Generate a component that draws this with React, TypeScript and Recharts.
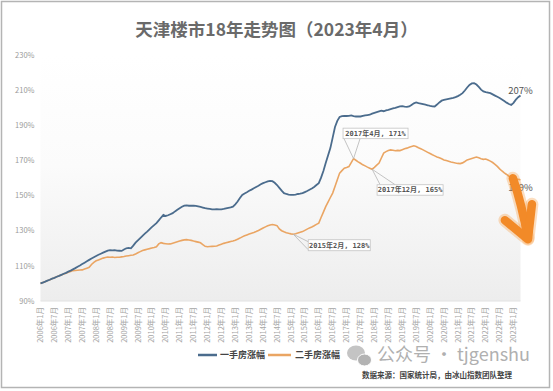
import React from 'react';
import { LineChart, Line, XAxis, YAxis, ReferenceDot, CartesianGrid } from 'recharts';

// 一手房涨幅 (new homes), monthly 2006年1月 – 2023年4月, % of 2006年1月
const newHome: number[] = [
  100.0, 100.5, 101.0, 101.6, 102.1, 102.7, 103.2, 103.8, 104.3, 104.9, 105.5, 106.0,
  106.7, 107.3, 108.0, 108.7, 109.5, 110.2, 111.0, 111.8, 112.6, 113.4, 114.2, 114.9,
  115.6, 116.3, 116.9, 117.5, 118.1, 118.7, 118.9, 118.8, 118.9, 118.7, 118.6, 118.5,
  119.3, 120.0, 120.2, 120.0, 121.5, 123.2, 124.5, 125.8, 127.1, 128.3, 129.5, 130.8,
  132.0, 133.2, 134.3, 135.9, 137.5, 139.0, 138.4, 138.8, 139.4, 140.0, 141.0, 141.9,
  142.8, 143.6, 144.3, 144.4, 144.2, 144.3, 144.2, 144.1, 143.8, 143.5, 143.2, 142.8,
  142.6, 142.4, 142.2, 142.1, 142.2, 142.1, 142.2, 142.4, 142.7, 143.0, 143.3, 143.7,
  145.0, 146.6, 148.6, 150.4, 151.2, 151.9, 152.7, 153.4, 154.2, 154.9, 155.6, 156.4,
  157.1, 157.6, 158.1, 158.4, 158.2, 157.3, 156.0, 154.4, 152.8, 151.4, 150.9, 150.6,
  150.4, 150.4, 150.6, 150.9, 151.1, 151.4, 152.0, 152.6, 153.3, 154.0, 154.9, 156.0,
  157.1, 160.2, 164.0, 168.5, 172.8, 177.0, 183.0, 189.0, 192.5, 194.7, 195.2, 195.4,
  195.3, 195.4, 195.6, 195.2, 195.0, 195.1, 195.0, 195.3, 195.6, 195.8, 196.0, 196.6,
  197.1, 197.5, 197.9, 198.3, 198.0, 198.5, 198.8, 199.2, 199.6, 199.9, 200.3, 200.7,
  200.9, 200.6, 200.5, 200.7, 201.6, 202.5, 203.0, 202.6, 202.3, 202.0, 201.7, 201.4,
  201.0, 200.8, 200.7, 201.8, 203.0, 204.0, 204.4, 204.7, 205.0, 205.3, 205.6, 206.0,
  206.6, 207.4, 208.3, 209.8, 211.5, 213.0, 213.8, 214.0, 213.2, 211.8, 210.3, 209.3,
  208.9, 208.6, 208.3, 207.6, 206.9, 206.2, 205.5, 204.7, 203.8, 202.9, 202.1, 201.6,
  202.8, 204.6, 206.0, 207.0,
];

// 二手房涨幅 (second-hand homes)
const resale: number[] = [
  100.0, 100.5, 101.0, 101.6, 102.1, 102.7, 103.2, 103.8, 104.3, 104.8, 105.3, 105.8,
  106.3, 106.8, 107.3, 107.4, 107.5, 107.6, 107.7, 108.2, 108.7, 109.2, 110.8, 112.0,
  112.9, 113.4, 113.9, 114.4, 114.8, 115.0, 114.9, 115.0, 114.8, 114.9, 114.9, 115.1,
  115.3, 115.6, 115.8, 116.0, 116.2, 116.8, 117.5, 118.1, 118.7, 119.1, 119.5, 119.8,
  120.2, 120.5, 120.9, 122.5, 123.2, 122.8, 122.6, 122.4, 122.5, 122.9, 123.3, 123.7,
  124.1, 124.5, 124.8, 124.9, 124.7, 124.5, 124.1, 123.8, 123.5, 123.1, 122.1, 121.1,
  120.9, 121.0, 121.1, 121.2, 121.3, 121.8, 122.3, 122.8, 123.2, 123.5, 123.9, 124.2,
  124.6, 125.2, 125.8, 126.5, 127.1, 127.6, 128.1, 128.6, 129.0, 129.5, 130.1, 130.8,
  131.5, 132.2, 132.8, 133.3, 133.5, 133.2, 132.9, 131.0, 130.0, 129.4, 128.9, 128.5,
  128.2, 128.0, 128.3, 128.7, 129.1, 129.5, 130.2, 130.9, 131.6, 132.1, 132.8, 133.6,
  134.3, 137.5, 140.6, 143.7, 146.3, 148.9, 151.4, 155.2, 159.0, 162.8, 164.2, 165.6,
  166.0, 166.5, 168.8, 171.0, 170.1, 169.2, 168.4, 167.5, 166.9, 166.2, 165.6, 165.0,
  166.1, 167.3, 168.5, 171.4, 174.2, 175.0, 175.6, 176.0, 175.8, 175.5, 175.7, 175.6,
  176.1, 176.6, 177.0, 177.5, 177.9, 178.3, 177.9, 177.2, 176.6, 176.0, 175.3, 174.6,
  173.9, 173.2, 172.6, 172.0, 171.5, 170.9, 170.3, 169.9, 169.5, 169.1, 168.8, 168.5,
  168.3, 168.2, 168.6, 169.4, 170.3, 170.7, 171.1, 171.5, 171.9, 171.5, 171.0, 170.6,
  170.8, 170.2, 169.6, 168.8, 167.8, 166.6, 165.2, 164.0, 162.9, 162.0, 161.0, 160.4,
  159.9, 159.5, 159.2, 159.0,
];

const yTicks: number[] = [90, 110, 130, 150, 170, 190, 210, 230];

const months: string[] = [];
for (let y = 2006; y <= 2023; y++) {
  for (let m = 1; m <= 12; m++) {
    if (y === 2023 && m > 4) break;
    months.push(`${y}年${m}月`);
  }
}
const xTicks: string[] = months.filter((l) => /年(1|7)月$/.test(l));

const data = months.map((month, i) => ({ month, newHome: newHome[i], resale: resale[i] }));

const CJK = "'Noto Sans CJK SC','Noto Sans',sans-serif";
const MONO = "'DejaVu Sans Mono','Noto Sans CJK SC',monospace";
const BLUE = '#4b6c8d';
const ORANGE = '#eaa563';

const XTick = (props: any) => {
  const { x, y, payload } = props;
  return (
    <text
      x={x}
      y={y}
      transform={`rotate(-90 ${x} ${y})`}
      textAnchor="end"
      dy="0.35em"
      fontSize={7.5}
      fill="#a6a6a6"
      fontFamily={CJK}
    >
      {payload.value}
    </text>
  );
};

const center = (props: any) => {
  const vb = props.viewBox || {};
  return { px: vb.x + (vb.width || 0) / 2, py: vb.y + (vb.height || 0) / 2 };
};

type CalloutCfg = { text: string; dx: number; dy: number; w: number; h: number; base: [number, number, number, number] };

const makeCallout = (c: CalloutCfg) => (props: any) => {
  const { px, py } = center(props);
  const bx = px + c.dx;
  const by = py + c.dy;
  return (
    <g>
      <line x1={px} y1={py} x2={bx + c.base[0]} y2={by + c.base[1]} stroke="#b5b5b5" strokeWidth={0.8} />
      <line x1={px} y1={py} x2={bx + c.base[2]} y2={by + c.base[3]} stroke="#b5b5b5" strokeWidth={0.8} />
      <rect x={bx} y={by} width={c.w} height={c.h} fill="#ffffff" stroke="#c4c4c4" strokeWidth={0.8} />
      <text
        x={bx + c.w / 2}
        y={by + c.h / 2}
        dy="0.35em"
        textAnchor="middle"
        fontSize={7}
        fontWeight="bold"
        fill="#555"
        fontFamily={MONO}
      >
        {c.text}
      </text>
    </g>
  );
};

const endLabel = (text: string, offY: number) => (props: any) => {
  const { px, py } = center(props);
  return (
    <text x={px} y={py + offY} textAnchor="middle" fontSize={9.5} fill="#555" fontFamily={CJK}>
      {text}
    </text>
  );
};

const arrowLabel = (props: any) => {
  const { px, py } = center(props);
  const t = `translate(${px} ${py})`;
  return (
    <g transform={t}>
      <g stroke="#f6a04a" strokeOpacity={0.35} strokeWidth={13} fill="none" strokeLinecap="round" strokeLinejoin="round">
        <path d="M 4 2 Q 13 28 19 62" />
        <path d="M -4 44 L 19 63 L 23 28" />
      </g>
      <g stroke="#f28a28" strokeWidth={8.5} fill="none" strokeLinecap="round" strokeLinejoin="round">
        <path d="M 4 2 Q 13 28 19 62" />
        <path d="M -4 44 L 19 63 L 23 28" />
      </g>
    </g>
  );
};

export default function App() {
  return (
    <div style={{ position: 'absolute', left: 0, top: 0, width: 553, height: 391, background: '#ffffff' }}>
      <LineChart
        width={553}
        height={391}
        data={data}
        margin={{ top: 55, right: 32.5, bottom: 40, left: 4.5 }}
      >
        <defs>
          <linearGradient id="plotBg" x1="0" y1="0" x2="0" y2="1">
            <stop offset="0%" stopColor="#ffffff" />
            <stop offset="45%" stopColor="#fbfbfb" />
            <stop offset="100%" stopColor="#ededed" />
          </linearGradient>
        </defs>
        <CartesianGrid horizontal={false} vertical={false} fill="url(#plotBg)" stroke="none" />
        <XAxis
          dataKey="month"
          ticks={xTicks}
          interval={0}
          tick={<XTick />}
          tickLine={false}
          tickSize={4}
          tickMargin={2}
          height={50}
          axisLine={{ stroke: '#e2e2e2' }}
        />
        <YAxis
          domain={[90, 230]}
          ticks={yTicks}
          width={36}
          tickLine={false}
          axisLine={false}
          tickSize={4}
          tickMargin={2}
          tickFormatter={(v: number) => `${v}%`}
          tick={{ fontSize: 7.5, fill: '#9a9a9a', fontFamily: CJK }}
        />
        <Line
          type="linear"
          dataKey="resale"
          stroke={ORANGE}
          strokeWidth={1.6}
          dot={false}
          isAnimationActive={false}
        />
        <Line
          type="linear"
          dataKey="newHome"
          stroke={BLUE}
          strokeWidth={1.8}
          dot={false}
          isAnimationActive={false}
        />
        <ReferenceDot
          x="2017年4月"
          y={171}
          r={1}
          fill="none"
          stroke="none"
          label={makeCallout({ text: '2017年4月, 171%', dx: -10.5, dy: -30.5, w: 65, h: 10.5, base: [1, 10.5, 17, 10.5] })}
        />
        <ReferenceDot
          x="2017年12月"
          y={165}
          r={1}
          fill="none"
          stroke="none"
          label={makeCallout({ text: '2017年12月, 165%', dx: 5, dy: 15.5, w: 66, h: 10.5, base: [3, 0, 18, 0] })}
        />
        <ReferenceDot
          x="2015年2月"
          y={128}
          r={1}
          fill="none"
          stroke="none"
          label={makeCallout({ text: '2015年2月, 128%', dx: 15, dy: 5.5, w: 62, h: 11, base: [0, 2, 0, 10] })}
        />
        <ReferenceDot x="2023年4月" y={207} r={1} fill="none" stroke="none" label={endLabel('207%', -1.5)} />
        <ReferenceDot x="2023年4月" y={159} r={1} fill="none" stroke="none" label={endLabel('159%', 11)} />
        <ReferenceDot x="2022年11月" y={161} r={1} fill="none" stroke="none" label={arrowLabel} />
      </LineChart>
      <svg
        width={553}
        height={391}
        style={{ position: 'absolute', left: 0, top: 0, pointerEvents: 'none' }}
      >
        <rect x={1.5} y={1.5} width={548} height={386} fill="none" stroke="#b4b4b4" strokeWidth={1.5} />
        <text
          x={276.5}
          y={36}
          textAnchor="middle"
          fontSize={17.5}
          fontWeight="bold"
          fill="#6a6a6a"
          fontFamily={CJK}
        >
          天津楼市18年走势图（2023年4月）
        </text>
        <line x1={198} y1={355} x2={217} y2={355} stroke={BLUE} strokeWidth={2.5} />
        <text x={220} y={355} dy="0.35em" fontSize={9} fontWeight="bold" fill="#444" fontFamily={CJK}>
          一手房涨幅
        </text>
        <line x1={268} y1={355} x2={291} y2={355} stroke={ORANGE} strokeWidth={2.5} />
        <text x={295} y={355} dy="0.35em" fontSize={9} fontWeight="bold" fill="#444" fontFamily={CJK}>
          二手房涨幅
        </text>
        <ellipse cx={356} cy={353} rx={9} ry={7.5} fill="#c4c4c4" />
        <ellipse cx={364.5} cy={360} rx={7} ry={6} fill="#b3b3b3" stroke="#ffffff" strokeWidth={1} />
        <text x={377} y={355} dy="0.35em" fontSize={18} fill="#b0b0b0" fontFamily={CJK}>
          公众号 · tjgenshu
        </text>
        <text x={362} y={375} dy="0.35em" fontSize={7.5} fontWeight="bold" fill="#444" fontFamily={CJK}>
          数据来源：国家统计局，由冰山指数团队整理
        </text>
      </svg>
    </div>
  );
}
